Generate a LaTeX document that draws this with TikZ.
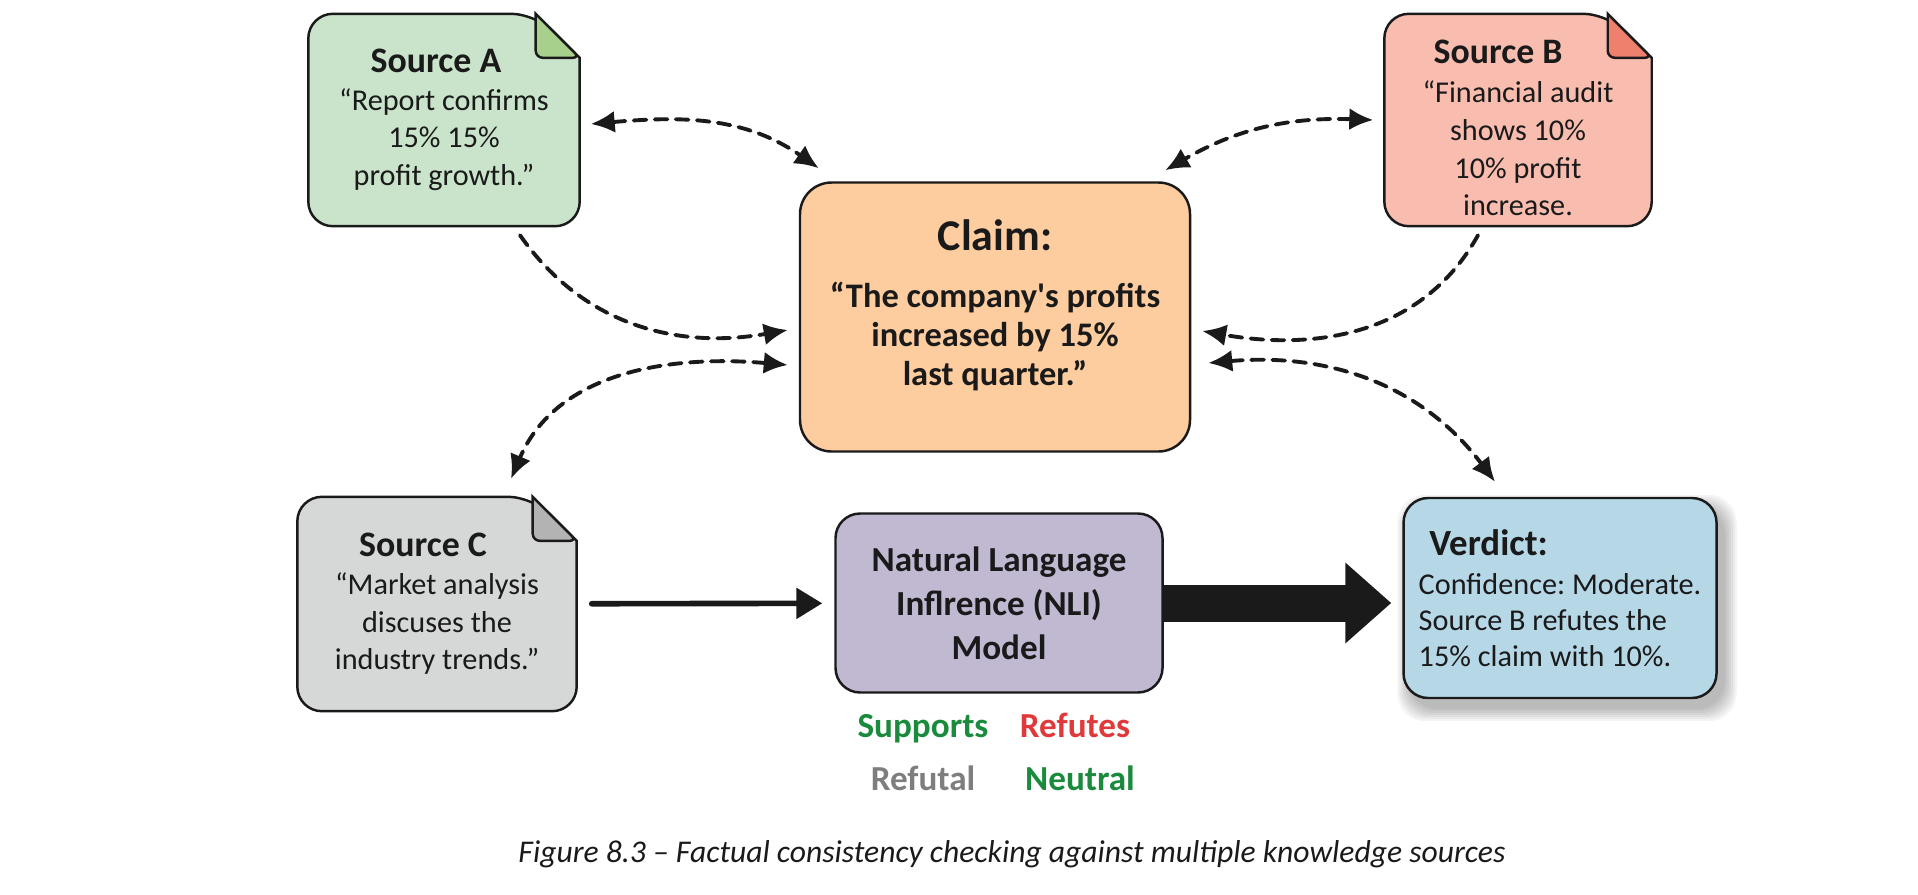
\documentclass[tikz,border=0pt]{standalone}
\usepackage{fontspec}
\setmainfont{Carlito}
\usepackage{tikz}
\usetikzlibrary{arrows.meta,backgrounds}
\definecolor{fcInk}{HTML}{1A1A1A}
\definecolor{fcSrcA}{HTML}{C9E4CA}
\definecolor{fcFoldA}{HTML}{A8D08D}
\definecolor{fcSrcB}{HTML}{F9BDB0}
\definecolor{fcFoldB}{HTML}{F0806E}
\definecolor{fcSrcC}{HTML}{D6D7D7}
\definecolor{fcFoldC}{HTML}{B3B3B3}
\definecolor{fcClaim}{HTML}{FDCC9F}
\definecolor{fcModel}{HTML}{C1B8D2}
\definecolor{fcVerdict}{HTML}{B6D7E6}
\definecolor{fcGreen}{HTML}{1A8B3C}
\definecolor{fcRed}{HTML}{E0393B}
\definecolor{fcGrey}{HTML}{7E7E7E}
\newcommand{\fcfold}{0.44cm}
% document shape with a folded top right corner, drawn behind node #1
\newcommand{\fcdoc}[3]{%
  \begin{scope}[on background layer]
    \filldraw[draw=fcInk, line width=0.7pt, fill=#2]
      ([yshift=-\fcfold]#1.north east) [rounded corners=7pt] -- (#1.south east)
      -- (#1.south west) -- (#1.north west) -- ([xshift=-\fcfold]#1.north east)
      [sharp corners] -- cycle;
    \filldraw[draw=fcInk, line width=0.7pt, fill=#3]
      ([xshift=-\fcfold]#1.north east) [rounded corners=2pt]
      -- ([shift={(-\fcfold,-\fcfold)}]#1.north east)
      -- ([yshift=-\fcfold]#1.north east) [sharp corners] -- cycle;
  \end{scope}}
\newcommand{\fctitle}{\fontsize{10.2}{12}\selectfont\bfseries}
\tikzset{
  fc diagram/.style={font=\fontsize{8.6}{10.7}\selectfont, text=fcInk,
    line cap=round, line join=round},
  fc box/.style={draw=fcInk, line width=0.7pt, rounded corners=7pt,
    align=center, inner sep=0pt},
  fc doc/.style={align=center, inner sep=0pt, minimum height=2.11cm},
  fc link/.style={draw=fcInk, line width=1.1pt, dash pattern=on 3.6pt off 2.4pt},
  fc both/.style={fc link, {Latex[length=2.4mm,width=2.2mm]}-{Latex[length=2.4mm,width=2.2mm]}},
  fc to/.style={fc link, -{Latex[length=2.4mm,width=2.2mm]}},
  fc arrow/.style={-{Triangle[length=2.6mm,width=3mm]}, draw=fcInk, line width=1.6pt},
  fc big arrow/.style={-{Triangle[length=4.6mm,width=7.8mm]}, draw=fcInk,
    line width=3.7mm, line cap=butt},
  fc label/.style={font=\fontsize{10}{12}\selectfont\bfseries, anchor=base},
  fc caption/.style={font=\fontsize{9}{11}\selectfont\itshape}
}

\begin{document}
\begin{tikzpicture}[fc diagram]
\useasboundingbox (0,0) rectangle (19.18,8.94);
% sources
\node[fc doc, minimum width=2.70cm] (srcA) at (4.44,7.74)
  {{\fctitle Source A\hspace*{0.16cm}}\\“Report confirms\\15\% 15\%\\profit growth.”};
\node[fc doc, minimum width=2.66cm] (srcB) at (15.18,7.74) {};
\node[align=center] (srcBtext) at ([yshift=-0.08cm]srcB)
  {{\fctitle Source B\hspace*{0.4cm}}\\[0.5pt]“Financial audit\\shows 10\%\\10\% profit\\increase.};
\node[fc doc, minimum width=2.78cm, minimum height=2.13cm] (srcC) at (4.37,2.90)
  {{\fctitle Source C\hspace*{0.28cm}}\\“Market analysis\\discuses the\\industry trends.”};
\fcdoc{srcA}{fcSrcA}{fcFoldA}
\fcdoc{srcB}{fcSrcB}{fcFoldB}
\fcdoc{srcC}{fcSrcC}{fcFoldC}
% claim, model, verdict
\node[fc box, fill=fcClaim, rounded corners=9pt, minimum width=3.90cm, minimum height=2.69cm]
  (claim) at (9.95,5.77) {};
\node[align=center, font=\fontsize{9.8}{11.1}\selectfont\bfseries] (claimtext)
  at ([yshift=0.12cm]claim)
  {{\fontsize{12.5}{14}\selectfont Claim:}\\[5.2pt]“The company\textquotesingle s profits\\increased by 15\%\\last quarter.”};
\node[fc box, fill=fcModel, minimum width=3.27cm, minimum height=1.79cm,
  font=\fontsize{10}{12.5}\selectfont\bfseries] (nli) at (9.99,2.91)
  {Natural Language\\Inflrence (NLI)\\Model};
\node[fc box, fill=fcVerdict, minimum width=3.13cm, minimum height=2.00cm, align=left,
  font=\fontsize{8.6}{10.2}\selectfont\frenchspacing] (verdict) at (15.60,2.96)
  {{\fontsize{10.5}{12}\selectfont\bfseries\hspace*{3pt}Verdict:}\\[0.9pt]Confidence: Moderate.\\Source B refutes the\\15\% claim with 10\%.};
% soft shadow of the verdict box
\begin{scope}[on background layer]
  \foreach \e in {0.00,0.02,...,0.14}
    \fill[black, opacity=0.045, rounded corners=8pt]
      ([shift={(0.07-\e,-0.10-\e)}]verdict.south west)
      rectangle ([shift={(0.07+\e,-0.10+\e)}]verdict.north east);
\end{scope}
% NLI labels
\node[fc label, text=fcGreen] (supports) at (9.23,1.57) {Supports};
\node[fc label, text=fcRed] (refutes) at (10.75,1.57) {Refutes};
\node[fc label, text=fcGrey] (refutal) at (9.23,1.04) {Refutal};
\node[fc label, text=fcGreen] (neutral) at (10.80,1.04) {Neutral};
% links
\draw[fc both] ([shift={(0.11,-0.04)}]srcA.east) to[out=5,in=145]
  ([shift={(0.20,0.13)}]claim.north west);
\draw[fc to] ([shift={(0.76,-0.09)}]srcA.south) to[out=-55,in=190]
  ([shift={(-0.11,-0.13)}]claim.west);
\draw[fc both] ([shift={(-0.11,0)}]srcB.west) to[out=178,in=30]
  ([shift={(-0.26,0.11)}]claim.north east);
\draw[fc to] ([shift={(-0.40,-0.09)}]srcB.south) to[out=-119,in=-10]
  ([shift={(0.11,-0.14)}]claim.east);
\draw[fc both] ([shift={(-0.11,-0.48)}]claim.west) to[out=175,in=67]
  ([shift={(0.74,0.18)}]srcC.north);
\draw[fc both] ([shift={(0.17,-0.46)}]claim.east) to[out=5,in=127]
  ([shift={(-0.65,0.15)}]verdict.north);
\draw[fc arrow, shorten <=0.15cm, shorten >=0.12cm] (srcC) -- (nli);
\draw[fc big arrow, shorten >=0.11cm] (nli.east) -- (nli.east -| verdict.west);
% caption
\node[fc caption] (caption) at (10.12,0.40)
  {Figure 8.3 – Factual consistency checking against multiple knowledge sources};
\end{tikzpicture}
\end{document}
